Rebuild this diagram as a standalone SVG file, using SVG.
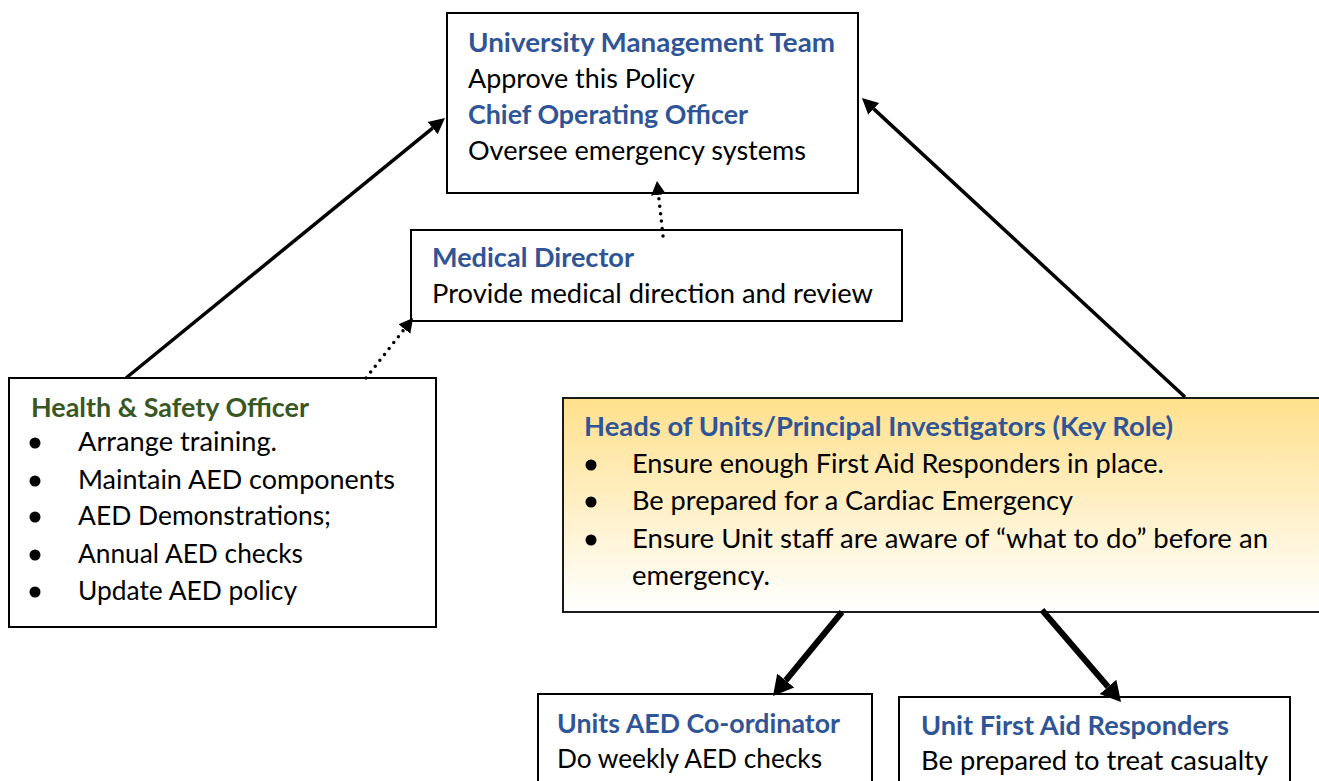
<svg xmlns="http://www.w3.org/2000/svg" width="1319" height="781" viewBox="0 0 1319 781">
  <style>
    .box { fill: #ffffff; stroke: #000000; stroke-width: 2; }
    .t { font-family: Lato, "Liberation Sans", sans-serif; font-size: 26.5px; fill: #000000; }
    .h { font-family: Lato, "Liberation Sans", sans-serif; font-size: 26.5px; font-weight: bold; fill: #2F5597; }
    .g { fill: #385723; }
    .solid { fill: none; stroke: #000000; stroke-width: 3.5; }
    .thick { fill: none; stroke: #000000; stroke-width: 6; }
    .dot { fill: none; stroke: #000000; stroke-width: 3.5; stroke-linecap: round; stroke-dasharray: 0 7.5; }
  </style>
  <defs>
    <linearGradient id="gold" x1="0" y1="0" x2="0" y2="1">
      <stop offset="0" stop-color="#FFE08C"/>
      <stop offset="1" stop-color="#FFFFFF"/>
    </linearGradient>
    <marker id="ah" markerUnits="userSpaceOnUse" markerWidth="20" markerHeight="20" viewBox="0 -10 20 20" refX="0" refY="0" orient="auto">
      <path d="M0,-8 L16,0 L0,8 z" fill="#000"/>
    </marker>
    <marker id="ahd" markerUnits="userSpaceOnUse" markerWidth="18" markerHeight="18" viewBox="0 -9 18 18" refX="0" refY="0" orient="auto">
      <path d="M0,-7.5 L14,0 L0,7.5 z" fill="#000"/>
    </marker>
    <marker id="aht" markerUnits="userSpaceOnUse" markerWidth="24" markerHeight="26" viewBox="0 -13 24 26" refX="0" refY="0" orient="auto">
      <path d="M0,-11 L20,0 L0,11 z" fill="#000"/>
    </marker>
  </defs>

  <g id="umt">
    <rect class="box" x="447" y="13" width="411" height="180"/>
    <text class="h" x="468" y="52" textLength="367" lengthAdjust="spacingAndGlyphs">University Management Team</text>
    <text class="t" x="468" y="88" textLength="227" lengthAdjust="spacingAndGlyphs">Approve this Policy</text>
    <text class="h" x="468" y="124" textLength="280" lengthAdjust="spacingAndGlyphs">Chief Operating Officer</text>
    <text class="t" x="468" y="160" textLength="338" lengthAdjust="spacingAndGlyphs">Oversee emergency systems</text>
  </g>

  <g id="medical-director">
    <rect class="box" x="411" y="230" width="491" height="91"/>
    <text class="h" x="432" y="267" textLength="202" lengthAdjust="spacingAndGlyphs">Medical Director</text>
    <text class="t" x="432" y="303" textLength="441" lengthAdjust="spacingAndGlyphs">Provide medical direction and review</text>
  </g>

  <g id="health-safety">
    <rect class="box" x="9" y="378" width="427" height="249"/>
    <text class="h g" x="31" y="417" textLength="278" lengthAdjust="spacingAndGlyphs">Health &amp; Safety Officer</text>
    <circle cx="35" cy="443" r="5.5"/>
    <text class="t" x="78" y="451" textLength="199" lengthAdjust="spacingAndGlyphs">Arrange training.</text>
    <circle cx="35" cy="481" r="5.5"/>
    <text class="t" x="78" y="489" textLength="317" lengthAdjust="spacingAndGlyphs">Maintain AED components</text>
    <circle cx="35" cy="517" r="5.5"/>
    <text class="t" x="78" y="525" textLength="253" lengthAdjust="spacingAndGlyphs">AED Demonstrations;</text>
    <circle cx="35" cy="555" r="5.5"/>
    <text class="t" x="78" y="563" textLength="225" lengthAdjust="spacingAndGlyphs">Annual AED checks</text>
    <circle cx="35" cy="592" r="5.5"/>
    <text class="t" x="78" y="600" textLength="219" lengthAdjust="spacingAndGlyphs">Update AED policy</text>
  </g>

  <g id="heads-of-units">
    <rect x="563" y="398" width="770" height="214" fill="url(#gold)" stroke="#1a1a1a" stroke-width="2"/>
    <text class="h" x="584" y="436" textLength="589" lengthAdjust="spacingAndGlyphs">Heads of Units/Principal Investigators (Key Role)</text>
    <circle cx="591" cy="465" r="5.5"/>
    <text class="t" x="632" y="473" textLength="532" lengthAdjust="spacingAndGlyphs">Ensure enough First Aid Responders in place.</text>
    <circle cx="591" cy="502" r="5.5"/>
    <text class="t" x="632" y="510" textLength="441" lengthAdjust="spacingAndGlyphs">Be prepared for a Cardiac Emergency</text>
    <circle cx="591" cy="540" r="5.5"/>
    <text class="t" x="632" y="548" textLength="636" lengthAdjust="spacingAndGlyphs">Ensure Unit staff are aware of “what to do” before an</text>
    <text class="t" x="632" y="585" textLength="138" lengthAdjust="spacingAndGlyphs">emergency.</text>
  </g>

  <g id="aed-coordinator">
    <rect class="box" x="538" y="694" width="334" height="110"/>
    <text class="h" x="557" y="733" textLength="283" lengthAdjust="spacingAndGlyphs">Units AED Co-ordinator</text>
    <text class="t" x="557" y="768" textLength="265" lengthAdjust="spacingAndGlyphs">Do weekly AED checks</text>
  </g>

  <g id="first-aid-responders">
    <rect class="box" x="899" y="697" width="391" height="110"/>
    <text class="h" x="921" y="735" textLength="308" lengthAdjust="spacingAndGlyphs">Unit First Aid Responders</text>
    <text class="t" x="921" y="770" textLength="347" lengthAdjust="spacingAndGlyphs">Be prepared to treat casualty</text>
  </g>

  <g id="connectors">
    <line class="solid" x1="126" y1="378" x2="432.6" y2="128.1" marker-end="url(#ah)"/>
    <line class="solid" x1="1185" y1="397" x2="873.7" y2="108.9" marker-end="url(#ah)"/>
    <line class="dot" x1="663" y1="236" x2="658.5" y2="194.9" marker-end="url(#ahd)"/>
    <line class="dot" x1="366" y1="378" x2="404.4" y2="329" marker-end="url(#ahd)"/>
    <line class="thick" x1="842" y1="612" x2="785.7" y2="680.5" marker-end="url(#aht)"/>
    <line class="thick" x1="1042" y1="610" x2="1108" y2="686.8" marker-end="url(#aht)"/>
  </g>
</svg>
